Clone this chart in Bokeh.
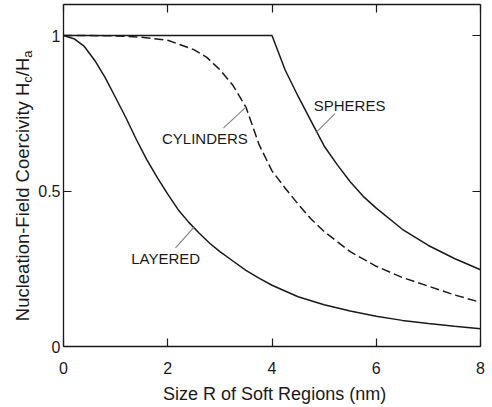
from bokeh.plotting import figure
from bokeh.models import Range1d, LinearAxis, FixedTicker, Label
from bokeh.embed import file_html
from bokeh.resources import INLINE

# ---- data ----
layered_x = [0, 0.2, 0.4, 0.6, 0.8, 1.0, 1.2, 1.4, 1.6, 1.8, 2.0, 2.2, 2.4, 2.6, 2.8, 3.0,
             3.25, 3.5, 3.75, 4.0, 4.5, 5.0, 5.5, 6.0, 6.5, 7.0, 7.5, 8.0]
layered_y = [1.0, 0.99, 0.965, 0.92, 0.865, 0.80, 0.735, 0.665, 0.60, 0.543, 0.49, 0.44, 0.40,
             0.365, 0.333, 0.305, 0.275, 0.245, 0.22, 0.197, 0.16, 0.134, 0.114, 0.097, 0.084,
             0.074, 0.065, 0.057]

cyl_x = [0, 0.5, 1.0, 1.5, 2.0, 2.5, 2.75, 3.0, 3.25, 3.5, 3.75, 4.0, 4.25, 4.5,
         4.75, 5.0, 5.5, 6.0, 6.5, 7.0, 7.5, 8.0]
cyl_y = [1.0, 1.0, 0.999, 0.995, 0.985, 0.955, 0.93, 0.89, 0.84, 0.77, 0.65, 0.565, 0.51, 0.458,
         0.41, 0.37, 0.305, 0.258, 0.222, 0.194, 0.166, 0.142]

sph_x = [0, 4.0, 4.25, 4.5, 4.75, 5.0, 5.25, 5.5, 5.75, 6.0, 6.5, 7.0, 7.5, 8.0]
sph_y = [1.0, 1.0, 0.89, 0.805, 0.725, 0.645, 0.585, 0.53, 0.483, 0.445, 0.377, 0.325, 0.283, 0.247]

x_lim = (0, 8)
y_lim = (0, 1.1)
x_ticks = [0, 2, 4, 6, 8]
y_ticks = [0, 0.5, 1]
y_tick_labels = ["0", "0.5", "1"]
x_title = "Size R of Soft Regions (nm)"

# annotation texts, their anchor (left, middle) and leader lines
ann_text = ["CYLINDERS", "SPHERES", "LAYERED"]
ann_x = [1.89, 4.80, 1.30]
ann_y = [0.668, 0.774, 0.284]
lead_x0 = [3.07, 5.21, 2.15]
lead_y0 = [0.703, 0.749, 0.317]
lead_x1 = [3.50, 4.84, 2.50]
lead_y1 = [0.770, 0.687, 0.383]

FONT = "Liberation Sans"
INK = "#1a1a1a"

# pixel layout: plot box 417 x 342 px, room on the left/below for labels
PX_X = 417 / (x_lim[1] - x_lim[0])
PX_Y = 342 / (y_lim[1] - y_lim[0])
LEFT_ROOM, BELOW_ROOM, PAD_TOP, PAD_RIGHT = 63, 60, 2, 9

p = figure(frame_width=LEFT_ROOM + 417 + PAD_RIGHT, frame_height=BELOW_ROOM + 342 + PAD_TOP,
           x_range=Range1d(x_lim[0] - LEFT_ROOM / PX_X, x_lim[1] + PAD_RIGHT / PX_X),
           y_range=Range1d(y_lim[0] - BELOW_ROOM / PX_Y, y_lim[1] + PAD_TOP / PX_Y),
           output_backend="svg", toolbar_location=None,
           min_border_left=0, min_border_right=0, min_border_top=2, min_border_bottom=0)
p.grid.visible = False
p.outline_line_color = None


def style_axis(ax, ticks, loc, bounds, show_labels):
    ax.ticker = FixedTicker(ticks=ticks)
    ax.fixed_location = loc
    ax.bounds = bounds
    ax.major_tick_in = 8
    ax.major_tick_out = 0
    ax.minor_tick_line_color = None
    ax.axis_line_color = INK
    ax.axis_line_width = 1.3
    ax.major_tick_line_color = INK
    ax.major_tick_line_width = 1.2
    ax.major_label_text_font = FONT
    ax.major_label_text_font_size = "16px"
    ax.major_label_text_color = INK if show_labels else None


xa = p.xaxis[0]
style_axis(xa, x_ticks, y_lim[0], x_lim, True)
xa.major_label_standoff = 15

ya = p.yaxis[0]
style_axis(ya, y_ticks, x_lim[0], y_lim, True)
ya.major_label_overrides = {t: s for t, s in zip(y_ticks, y_tick_labels)}
ya.major_label_standoff = 3

ra = LinearAxis()
style_axis(ra, y_ticks, x_lim[1], y_lim, False)
p.add_layout(ra, "right")
ta = LinearAxis()
style_axis(ta, x_ticks, y_lim[1], x_lim, False)
p.add_layout(ta, "above")

# curves
p.line(layered_x, layered_y, line_color=INK, line_width=1.5)
p.line(sph_x, sph_y, line_color=INK, line_width=1.5)
p.line(cyl_x, cyl_y, line_color=INK, line_width=1.5, line_dash="9 4")

# leader lines and annotation text
p.segment(x0=lead_x0, y0=lead_y0, x1=lead_x1, y1=lead_y1, line_color="#808080", line_width=1.1)
for t, x, y in zip(ann_text, ann_x, ann_y):
    p.add_layout(Label(x=x, y=y, text=t, text_font=FONT, text_font_size="15px",
                       text_color=INK, text_align="left", text_baseline="middle"))

# x-axis title
p.add_layout(Label(x=(x_lim[0] + x_lim[1]) / 2 + 0.05, y=y_lim[0] - 47.0 / PX_Y, text=x_title,
                   text_font=FONT, text_font_size="18px", text_color=INK,
                   text_align="center", text_baseline="middle"))

# y-axis title with subscripts, built from pieces (Arial/Liberation metrics)
main_fs, sub_fs = 18.5, 13.0
w_main = 12.891 * main_fs
w_c = 0.5 * sub_fs
w_slash = 1.0 * main_fs
x_main = x_lim[0] - 41.5 / PX_X
x_sub = x_lim[0] - 36.0 / PX_X
y0 = y_lim[0] + 25.3 / PX_Y
pieces = [
    ("Nucleation-Field Coercivity H", "18.5px", x_main, y0),
    ("c", "13px", x_sub, y0 + w_main / PX_Y),
    ("/H", "18.5px", x_main, y0 + (w_main + w_c) / PX_Y),
    ("a", "13px", x_sub, y0 + (w_main + w_c + w_slash) / PX_Y),
]
for t, fs, x, y in pieces:
    p.add_layout(Label(x=x, y=y, text=t, angle=1.5707963, text_font=FONT,
                       text_font_size=fs, text_color=INK,
                       text_align="left", text_baseline="middle"))

open("out.html", "w").write(file_html(p, INLINE))
